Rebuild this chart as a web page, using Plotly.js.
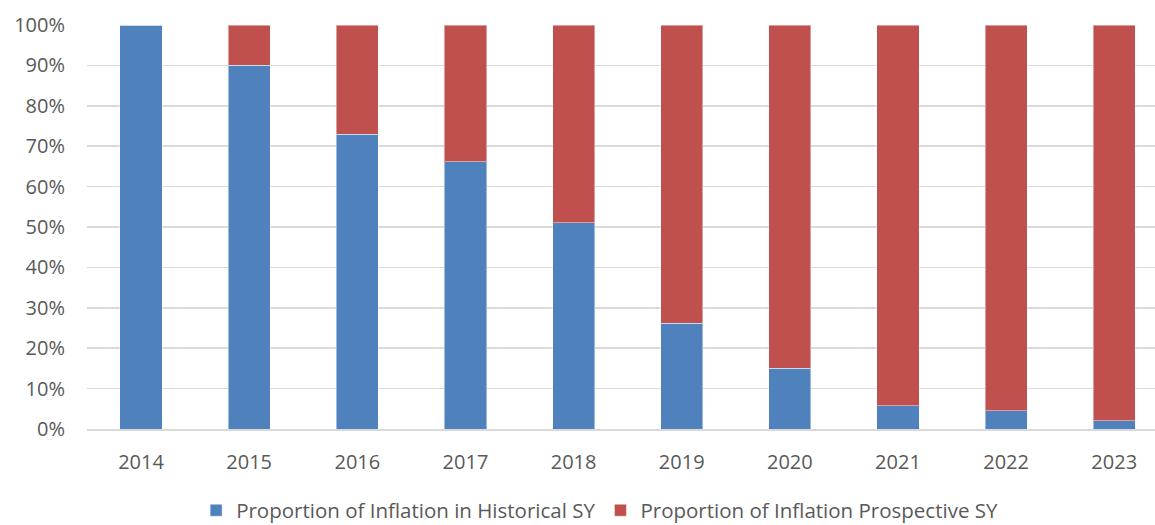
<!DOCTYPE html>
<html>
<head>
<meta charset="utf-8">
<script src="https://cdn.plot.ly/plotly-3.0.1.min.js"></script>
<style>html,body{margin:0;padding:0;background:#fff;}#chart{width:1155px;height:525px;}</style>
</head>
<body>
<div id="chart"></div>
<script>
const years = ['2014','2015','2016','2017','2018','2019','2020','2021','2022','2023'];
const historical = [100, 90, 72.9, 66.2, 51.0, 26.2, 15.1, 5.7, 4.5, 2.1];
const prospective = [0, 10, 27.1, 33.8, 49.0, 73.8, 84.9, 94.3, 95.5, 97.9];
const seriesNames = ['Proportion of Inflation in Historical SY', 'Proportion of Inflation Prospective SY'];
const yTicks = [0,10,20,30,40,50,60,70,80,90,100];

const FONT = 'Open Sans, sans-serif';
const traces = [
  {type:'bar', x: years, y: historical, name: seriesNames[0], width: 0.39,
   marker:{color:'#4F81BD', line:{color:'rgba(255,255,255,0.45)', width:1}}, hoverinfo:'skip'},
  {type:'bar', x: years, y: prospective, name: seriesNames[1], width: 0.39,
   marker:{color:'#C0504D', line:{color:'rgba(255,255,255,0.45)', width:1}}, hoverinfo:'skip'}
];
const layout = {
  width:1155, height:525,
  margin:{l:87, r:0, t:24.5, b:95.7, autoexpand:false},
  barmode:'stack',
  paper_bgcolor:'#fff', plot_bgcolor:'#fff',
  font:{family:FONT, color:'#595959', size:20},
  xaxis:{type:'category', range:[-0.5, 9.377], showgrid:false, showline:true, linecolor:'#D9D9D9', linewidth:1.5,
         ticks:'', ticklabelstandoff:14, tickfont:{size:20, color:'#595959', family:FONT}, fixedrange:true, automargin:false},
  yaxis:{range:[0,100], tickvals:yTicks, ticktext:yTicks.map(v=>v+'%'), showgrid:true, gridcolor:'#D9D9D9', gridwidth:1.5,
         zeroline:false, showline:false, ticks:'', ticklabelstandoff:21, tickfont:{size:20, color:'#595959', family:FONT}, fixedrange:true, automargin:false},
  showlegend:true,
  legend:{orientation:'h', x:0.48, xanchor:'center', y:-0.152, yanchor:'top', font:{size:20.5, color:'#595959', family:FONT},
          itemwidth:30, tracegroupgap:0, traceorder:'normal'}
};
Plotly.newPlot('chart', traces, layout, {displayModeBar:false, staticPlot:true});
</script>
</body>
</html>
